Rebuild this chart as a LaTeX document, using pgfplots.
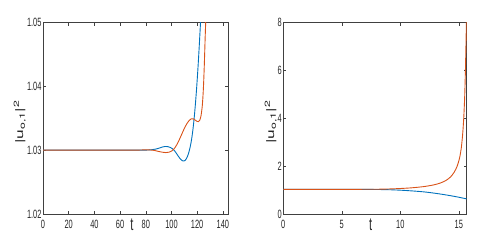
\documentclass[border=0pt]{standalone}
\usepackage{fontspec}
\setmainfont{Liberation Sans}[FakeStretch=0.62]
\newfontfamily\labfont{TeX Gyre Heros}
\usepackage{pgfplots}
\pgfplotsset{compat=1.18}
\definecolor{mblue}{RGB}{0,114,189}
\definecolor{mred}{RGB}{217,83,25}
\definecolor{axc}{gray}{0.25}
\pgfplotsset{
  mystyle/.style={
    scale only axis,
    anchor=south west,
    axis line style={axc, line width=0.8pt},
    every tick/.style={axc, line width=0.5pt},
    tick align=inside,
    major tick length=3pt,
    tick pos=both,
    /pgf/number format/assume math mode=true,
    tick label style={font=\fontsize{12}{12}\selectfont, text=black!85},
    yticklabel style={inner sep=0pt, xshift=-1.3pt},
    xticklabel style={inner sep=0pt, yshift=-6pt},
    xlabel style={font=\fontsize{18}{19}\selectfont, text=black!85, inner sep=0pt, anchor=north, yshift=-4.5pt},
    clip=true,
  }
}
\begin{document}
\begin{tikzpicture}[x=1pt,y=1pt]
\path[use as bounding box] (0,0) rectangle (481,241);
\begin{axis}[mystyle,
  xlabel style={at={(axis description cs:0.48,0)}},
  at={(43pt,27pt)}, width=185pt, height=191.5pt,
  xmin=0, xmax=144, ymin=1.02, ymax=1.05,
  xtick={0,20,...,140}, ytick={1.02,1.03,1.04,1.05},
  yticklabel style={/pgf/number format/.cd, fixed, fixed zerofill, precision=2},
  xlabel={t},
]
\addplot[mblue, line width=0.9pt, smooth] coordinates {
(0,1.03) (20,1.03) (40,1.03) (60,1.03) (75,1.03) (80,1.03001) (84,1.03006) (88,1.03018)
(91,1.03036) (93,1.03050) (95,1.03058) (97,1.03056) (99,1.03044) (101,1.03020)
(103,1.02975) (105,1.02915) (107,1.02860) (108.5,1.02835) (109.5,1.02830) (110.5,1.02838)
(111.5,1.02862) (112.5,1.02905) (113.5,1.02965) (114.5,1.03045) (115.5,1.03150)
(116.5,1.03290) (117.5,1.03470) (118.5,1.03690) (119.5,1.03950) (120.5,1.04250)
(121.5,1.04590) (122.5,1.04960) (123,1.0517)
};
\addplot[mred, line width=0.9pt, smooth] coordinates {
(0,1.03) (20,1.03) (40,1.03) (60,1.03) (72,1.03) (78,1.03004) (83,1.03004) (87,1.02995)
(90,1.02980) (93,1.02968) (95.5,1.02962) (98,1.02968) (100,1.02985) (102,1.03020)
(104,1.03080) (106,1.03160) (108,1.03250) (110,1.03340) (112,1.03415) (114,1.03470)
(115.5,1.03492) (117,1.03490) (118.5,1.03470) (120,1.03450) (121,1.03448) (122,1.03470)
(123,1.03540) (124,1.03700) (124.8,1.03950) (125.5,1.04300) (126.2,1.04750)
(126.8,1.05100)
};
\end{axis}
\begin{axis}[mystyle,
  xlabel style={at={(axis description cs:0.477,0)}},
  at={(283.3pt,27pt)}, width=183.4pt, height=191.5pt,
  xmin=0, xmax=15.68, ymin=0, ymax=8,
  xtick={0,5,10,15}, ytick={0,2,4,6,8},
  xlabel={t},
]
\addplot[mblue, line width=0.9pt, smooth] coordinates {
(0,1.03) (4,1.03) (7,1.028) (8,1.024) (9,1.015) (10,0.995) (11,0.965) (12,0.925)
(13,0.865) (14,0.79) (14.8,0.72) (15.4,0.66) (15.68,0.63)
};
\addplot[mred, line width=0.9pt, smooth] coordinates {
(0,1.03) (5,1.03) (8,1.035) (9,1.045) (10,1.065) (11,1.095) (12,1.145) (12.8,1.21)
(13.4,1.29) (13.9,1.40) (14.3,1.55) (14.6,1.74) (14.85,1.98) (15.05,2.30)
(15.2,2.70) (15.32,3.25) (15.42,3.95) (15.5,4.80) (15.56,5.80) (15.61,6.90)
(15.65,7.90) (15.69,9.0)
};
\end{axis}
\node[rotate=90, anchor=south, inner sep=0pt, text=black!85, font=\labfont\fontsize{17.5}{18}\selectfont, yscale=0.62]
  at (26,119) {|u\textsubscript{o,1}|\textsuperscript{2}};
\node[rotate=90, anchor=south, inner sep=0pt, text=black!85, font=\labfont\fontsize{17.5}{18}\selectfont, yscale=0.62]
  at (277,119) {|u\textsubscript{o,1}|\textsuperscript{2}};
\end{tikzpicture}
\end{document}
